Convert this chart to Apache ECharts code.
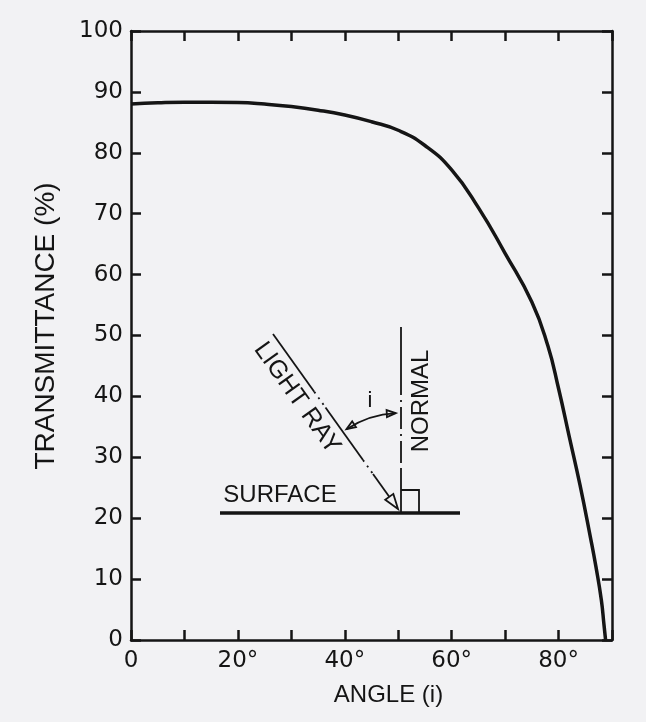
<!DOCTYPE html>
<html>
<head>
<meta charset="utf-8">
<script src="https://cdn.jsdelivr.net/npm/echarts@6/dist/echarts.min.js"></script>
<style>
  html, body { margin: 0; padding: 0; background: #f2f2f4; }
  #chart { width: 646px; height: 722px; }
</style>
</head>
<body>
<div id="chart"></div>
<script>
// angle of incidence (deg) and transmittance (%)
var angles = [0, 5, 10, 15, 20, 25, 30, 35, 40, 45, 50, 55, 60, 65, 70, 75, 78, 80, 82, 84, 86, 87, 88, 88.5, 88.8]
var transmittance = [88.0, 88.2, 88.3, 88.3, 88.25, 88.0, 87.6, 87.0, 86.2, 85.1, 83.7, 81.2, 77.2, 71.0, 63.5, 55.5, 48.3, 41.3, 33.4, 25.5, 16.7, 12.0, 6.6, 2.5, 0]
var xTicks = [0, 10, 20, 30, 40, 50, 60, 70, 80, 90]
var yTicks = [0, 10, 20, 30, 40, 50, 60, 70, 80, 90, 100]

var ink = '#151515'
var font = 'Liberation Sans, Arial, sans-serif'
var numFont = 'DejaVu Sans, sans-serif'

var chart = echarts.init(document.getElementById('chart'))

function axisBase(min, max, step) {
  return {
    type: 'value',
    min: min,
    max: max,
    interval: step,
    splitLine: { show: false },
    axisLine: { show: true, onZero: false, lineStyle: { color: ink, width: 2.5 } },
    axisTick: { show: true, inside: true, length: 10, lineStyle: { color: ink, width: 2.5 } }
  }
}

// little open arrowhead, tip at (x, y) pointing along (dx, dy)
function arrowHead(x, y, dx, dy, len, half) {
  var d = Math.sqrt(dx * dx + dy * dy)
  dx /= d; dy /= d
  var bx = x - dx * len, by = y - dy * len
  return {
    type: 'polygon',
    shape: { points: [[x, y], [bx - dy * half, by + dx * half], [bx + dy * half, by - dx * half]] },
    style: { fill: 'none', stroke: ink, lineWidth: 1.8 }
  }
}

function seg(x1, y1, x2, y2, w, dash) {
  var s = { stroke: ink, lineWidth: w }
  if (dash) s.lineDash = dash
  return { type: 'line', shape: { x1: x1, y1: y1, x2: x2, y2: y2 }, style: s }
}

// inset sketch: surface, normal, light ray and the angle i
var ray = { x1: 273, y1: 334, x2: 398, y2: 509 }
function rayPt(t) {
  return [ray.x1 + (ray.x2 - ray.x1) * t, ray.y1 + (ray.y2 - ray.y1) * t]
}
var raySegs = [[0, 0.33, null], [0.33, 0.42, [2, 5]], [0.42, 0.72, null], [0.72, 0.8, [2, 5]], [0.8, 0.93, null]]
var sketch = []
raySegs.forEach(function (r) {
  var a = rayPt(r[0]), b = rayPt(r[1])
  sketch.push(seg(a[0], a[1], b[0], b[1], 1.8, r[2]))
})
sketch.push(arrowHead(ray.x2, ray.y2, ray.x2 - ray.x1, ray.y2 - ray.y1, 15, 5))
sketch.push(seg(220, 513, 460, 513, 3.5))
sketch.push(seg(401, 327, 401, 373, 1.8))
sketch.push(seg(401, 373, 401, 470, 1.8, [22, 5, 2, 5]))
sketch.push(seg(401, 470, 401, 513, 1.8))
sketch.push({
  type: 'polyline',
  shape: { points: [[401, 490], [419, 490], [419, 513]] },
  style: { fill: 'none', stroke: ink, lineWidth: 1.8 }
})

var cx = 401, cy = 513, rad = 100
var a1 = -123 * Math.PI / 180, a2 = -93 * Math.PI / 180
sketch.push({
  type: 'arc',
  shape: { cx: cx, cy: cy, r: rad, startAngle: a1, endAngle: a2, clockwise: true },
  style: { fill: 'none', stroke: ink, lineWidth: 1.8 }
})
sketch.push(arrowHead(cx + rad * Math.cos(a1), cy + rad * Math.sin(a1), Math.sin(a1), -Math.cos(a1), 9, 3.5))
sketch.push(arrowHead(cx + rad * Math.cos(a2), cy + rad * Math.sin(a2), -Math.sin(a2), Math.cos(a2), 9, 3.5))

sketch.push({
  type: 'text', x: 370, y: 401,
  style: { text: 'i', font: '22px ' + font, fill: ink, align: 'center', verticalAlign: 'middle' }
})
sketch.push({
  type: 'text', x: 280, y: 495,
  style: { text: 'SURFACE', font: '24px ' + font, fill: ink, align: 'center', verticalAlign: 'middle' }
})
sketch.push({
  type: 'text', x: 297, y: 398, rotation: -54.5 * Math.PI / 180,
  style: { text: 'LIGHT RAY', font: '25px ' + font, fill: ink, align: 'center', verticalAlign: 'middle' }
})
sketch.push({
  type: 'text', x: 421, y: 401, rotation: Math.PI / 2,
  style: { text: 'NORMAL', font: '24px ' + font, fill: ink, align: 'center', verticalAlign: 'middle' }
})

var xBottom = axisBase(0, 90, 10)
xBottom.position = 'bottom'
xBottom.name = 'ANGLE (i)'
xBottom.nameLocation = 'middle'
xBottom.nameGap = 43
xBottom.nameTextStyle = { color: ink, fontSize: 24, fontFamily: font, padding: [0, 0, 0, 34] }
xBottom.axisLabel = {
  color: ink, fontSize: 23, fontFamily: numFont, margin: 10,
  formatter: function (v) {
    if (v % 20 !== 0 || v >= 90) return ''
    return v === 0 ? '0' : v + '°'
  }
}

var xTop = axisBase(0, 90, 10)
xTop.position = 'top'
xTop.axisLabel = { show: false }

var yLeft = axisBase(0, 100, 10)
yLeft.position = 'left'
yLeft.name = 'TRANSMITTANCE (%)'
yLeft.nameLocation = 'middle'
yLeft.nameGap = 71
yLeft.nameTextStyle = { color: ink, fontSize: 28, fontFamily: font, padding: [0, 0, 0, 19] }
yLeft.axisLabel = { color: ink, fontSize: 23, fontFamily: numFont, margin: 8 }

var yRight = axisBase(0, 100, 10)
yRight.position = 'right'
yRight.axisLabel = { show: false }

chart.setOption({
  backgroundColor: '#f2f2f4',
  animation: false,
  grid: { left: 131, right: 34, top: 31, bottom: 82 },
  xAxis: [xBottom, xTop],
  yAxis: [yLeft, yRight],
  series: [{
    type: 'line',
    xAxisIndex: 0,
    yAxisIndex: 0,
    smooth: 0.5,
    symbol: 'none',
    lineStyle: { color: ink, width: 3.5 },
    data: angles.map(function (a, i) { return [a, transmittance[i]] })
  }],
  graphic: sketch
})
</script>
</body>
</html>
